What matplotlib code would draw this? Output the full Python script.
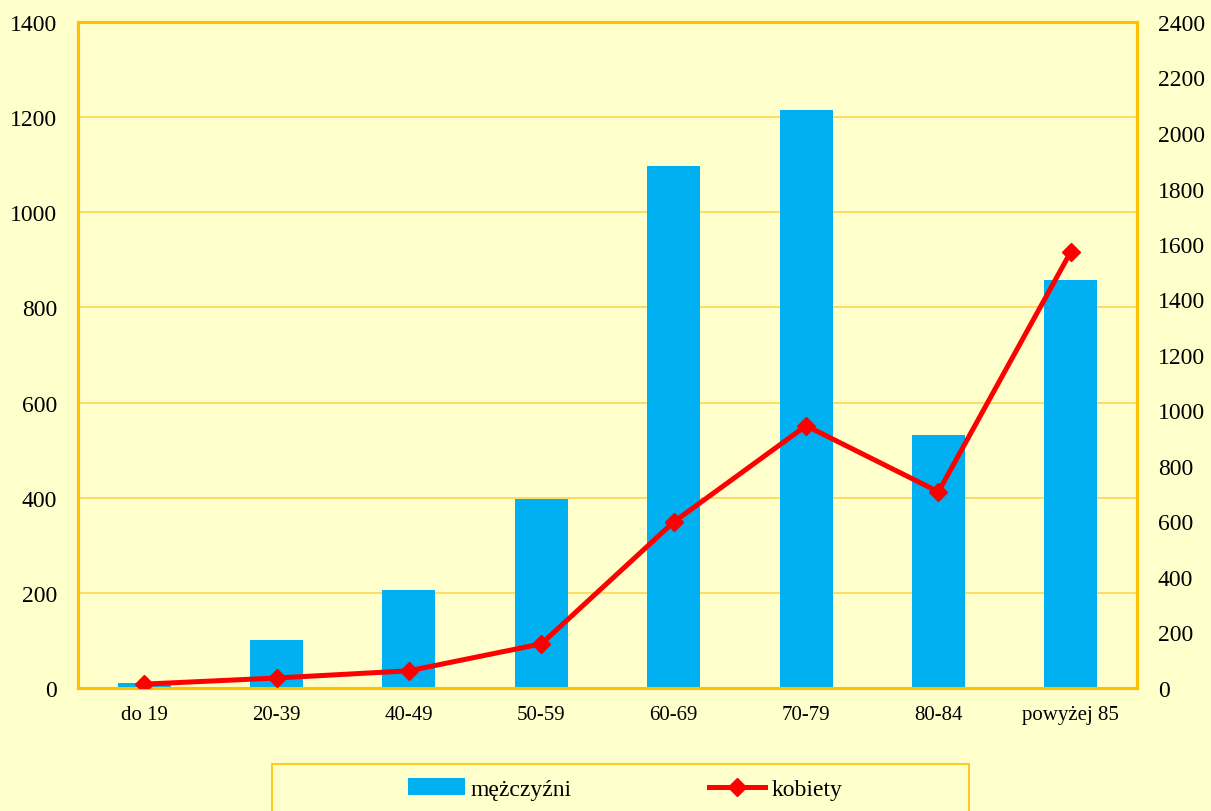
import matplotlib
matplotlib.use("Agg")
import matplotlib.pyplot as plt
import numpy as np
from matplotlib.patches import Rectangle

plt.rcParams['font.family'] = ['Liberation Serif', 'DejaVu Serif']

# data
categories = ["do 19", "20-39", "40-49", "50-59", "60-69", "70-79", "80-84", "powyżej 85"]
mezczyzni = [11, 101, 205, 397, 1097, 1214, 532, 857]
kobiety = [14, 36, 62, 159, 598, 945, 707, 1572]

bg = "#FFFFCC"
gold = "#FFC000"
grid_col = "#FFD54F"
blue = "#00B0F0"
red = "#FF0000"

fig = plt.figure(figsize=(12.11, 8.12), dpi=100, facecolor=bg)
ax = fig.add_axes([78/1211, 1 - 689/812, (1137-78)/1211, (689-23)/812])
ax.set_facecolor(bg)
ax2 = ax.twinx()

x = np.arange(len(categories))
bars = ax.bar(x, mezczyzni, width=0.4, color=blue, zorder=2, label="mężczyźni")
ax.set_xlim(-0.5, len(categories) - 0.5)
ax.set_ylim(0, 1400)
ax.set_yticks(np.arange(0, 1401, 200))
ax.yaxis.grid(True, color=grid_col, lw=1.2, zorder=0)
ax.set_axisbelow(True)
ax.set_xticks(x)
ax.set_xticklabels(categories)

line, = ax2.plot(x, kobiety, color=red, lw=3.6, marker="D", markersize=9,
                 zorder=3, label="kobiety")
ax2.set_ylim(0, 2400)
ax2.set_yticks(np.arange(0, 2401, 200))

for a in (ax, ax2):
    for s in a.spines.values():
        s.set_color(gold)
        s.set_linewidth(2.2)
ax.tick_params(axis="y", length=0, pad=15, labelsize=17)
ax.tick_params(axis="x", length=0, pad=12, labelsize=15)
ax2.tick_params(axis="y", length=0, pad=15, labelsize=17)

# legend box running off the bottom edge
fig.patches.append(Rectangle((272/1211, -0.02), (969-272)/1211, (812-765)/812 + 0.02,
                             transform=fig.transFigure, facecolor=bg,
                             edgecolor=gold, lw=1.2))
fig.legend([bars, line], ["mężczyźni", "kobiety"], loc="center",
           bbox_to_anchor=(625/1211, 1 - 790/812), ncol=2, frameon=False,
           fontsize=17, handlelength=2.4, handletextpad=0.25, columnspacing=5.8)

fig.savefig("out.png", dpi=100, facecolor=bg)
